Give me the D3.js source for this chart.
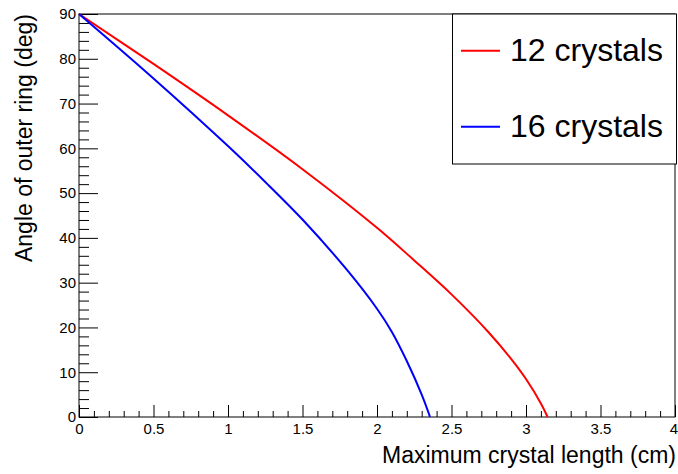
<!DOCTYPE html>
<html>
<head>
<meta charset="utf-8">
<script src="https://cdn.jsdelivr.net/npm/d3@7"></script>
<style>
  html, body { margin: 0; padding: 0; background: #fff; }
  svg { display: block; font-family: "Liberation Sans", Arial, Helvetica, sans-serif; }
</style>
</head>
<body>
<svg id="chart" width="678" height="474"></svg>
<script>
// ---- data ----
const seriesNames = ["12 crystals", "16 crystals"];
const seriesColors = ["#ff0000", "#0000ff"];
const red12X = [0, 0.5, 1.0, 1.5, 2.0, 2.25, 2.5, 2.75, 2.9, 3.0, 3.1, 3.145];
const red12Y = [90, 78.85, 67.37, 55.34, 42.26, 34.96, 27.38, 18.88, 12.98, 8.48, 3.03, 0];
const blue16X = [0, 0.5, 1.0, 1.25, 1.5, 1.8, 2.0, 2.1, 2.2, 2.3, 2.356];
const blue16Y = [90, 75.6, 60.5, 52.5, 44.1, 32.78, 24.18, 19.0, 12.5, 5.0, 0];
const xMajorTicks = [0, 0.5, 1, 1.5, 2, 2.5, 3, 3.5, 4];
const xTickLabels = ["0", "0.5", "1", "1.5", "2", "2.5", "3", "3.5", "4"];
const yMajorTicks = [0, 10, 20, 30, 40, 50, 60, 70, 80, 90];
const yTickLabels = ["0", "10", "20", "30", "40", "50", "60", "70", "80", "90"];
const xTitle = "Maximum crystal length (cm)";
const yTitle = "Angle of outer ring (deg)";

// ---- layout ----
const svg = d3.select("#chart");
const L = 79, R = 675, T = 14, B = 417;
const x = d3.scaleLinear().domain([0, 4]).range([L, R]);
const y = d3.scaleLinear().domain([0, 90]).range([B, T]);

const xMinor = d3.range(0, 40.5, 1).map(d => d / 10).filter(v => !xMajorTicks.some(m => Math.abs(m - v) < 1e-9));
const yMinor = d3.range(0, 91, 2).filter(v => v % 10 !== 0);

// frame
svg.append("rect").attr("x", L).attr("y", T).attr("width", R - L).attr("height", B - T)
  .attr("fill", "none").attr("stroke", "#000").attr("stroke-width", 1);

// x axis
const gx = svg.append("g").attr("transform", `translate(0,${B})`);
gx.call(d3.axisBottom(x).tickValues(xMajorTicks).tickSize(-12).tickPadding(6)
  .tickFormat((d, i) => xTickLabels[i]));
gx.append("g").call(d3.axisBottom(x).tickValues(xMinor).tickSize(-6).tickFormat(""))
  .select(".domain").remove();
gx.select(".domain").remove();
gx.selectAll("text").attr("font-size", 15).attr("fill", "#000")
  .attr("font-family", "'Liberation Sans', Arial, sans-serif");
gx.selectAll(".tick text").filter(d => d === 4).attr("dx", -1.5);
gx.selectAll("line").attr("stroke", "#000");

// y axis
const gy = svg.append("g").attr("transform", `translate(${L},0)`);
gy.call(d3.axisLeft(y).tickValues(yMajorTicks).tickSize(-19).tickPadding(3)
  .tickFormat((d, i) => yTickLabels[i]));
gy.append("g").call(d3.axisLeft(y).tickValues(yMinor).tickSize(-10).tickFormat(""))
  .select(".domain").remove();
gy.select(".domain").remove();
gy.selectAll("text").attr("font-size", 15).attr("fill", "#000")
  .attr("font-family", "'Liberation Sans', Arial, sans-serif");
gy.selectAll("line").attr("stroke", "#000");

// titles
svg.append("text").attr("x", 676).attr("y", 463).attr("text-anchor", "end")
  .attr("font-size", 23).attr("fill", "#000").text(xTitle);
svg.append("text").attr("transform", `translate(32,${T}) rotate(-90)`).attr("text-anchor", "end")
  .attr("font-size", 23).attr("fill", "#000").text(yTitle);

// curves
const line = d3.line().x(d => x(d[0])).y(d => y(d[1])).curve(d3.curveCatmullRom.alpha(0.5));
const series = [d3.zip(red12X, red12Y), d3.zip(blue16X, blue16Y)];
series.forEach((s, i) => {
  svg.append("path").datum(s).attr("d", line).attr("fill", "none")
    .attr("stroke", seriesColors[i]).attr("stroke-width", 2);
});

// legend
svg.append("rect").attr("x", 452.5).attr("y", 14).attr("width", 224).attr("height", 150)
  .attr("fill", "#fff").attr("stroke", "#000").attr("stroke-width", 1);
const legY = [50.7, 126.7];
seriesNames.forEach((n, i) => {
  svg.append("line").attr("x1", 461).attr("x2", 500).attr("y1", legY[i]).attr("y2", legY[i])
    .attr("stroke", seriesColors[i]).attr("stroke-width", 2);
  svg.append("text").attr("x", 510).attr("y", legY[i] + 10).attr("font-size", 32)
    .attr("fill", "#000").text(n);
});
</script>
</body>
</html>
